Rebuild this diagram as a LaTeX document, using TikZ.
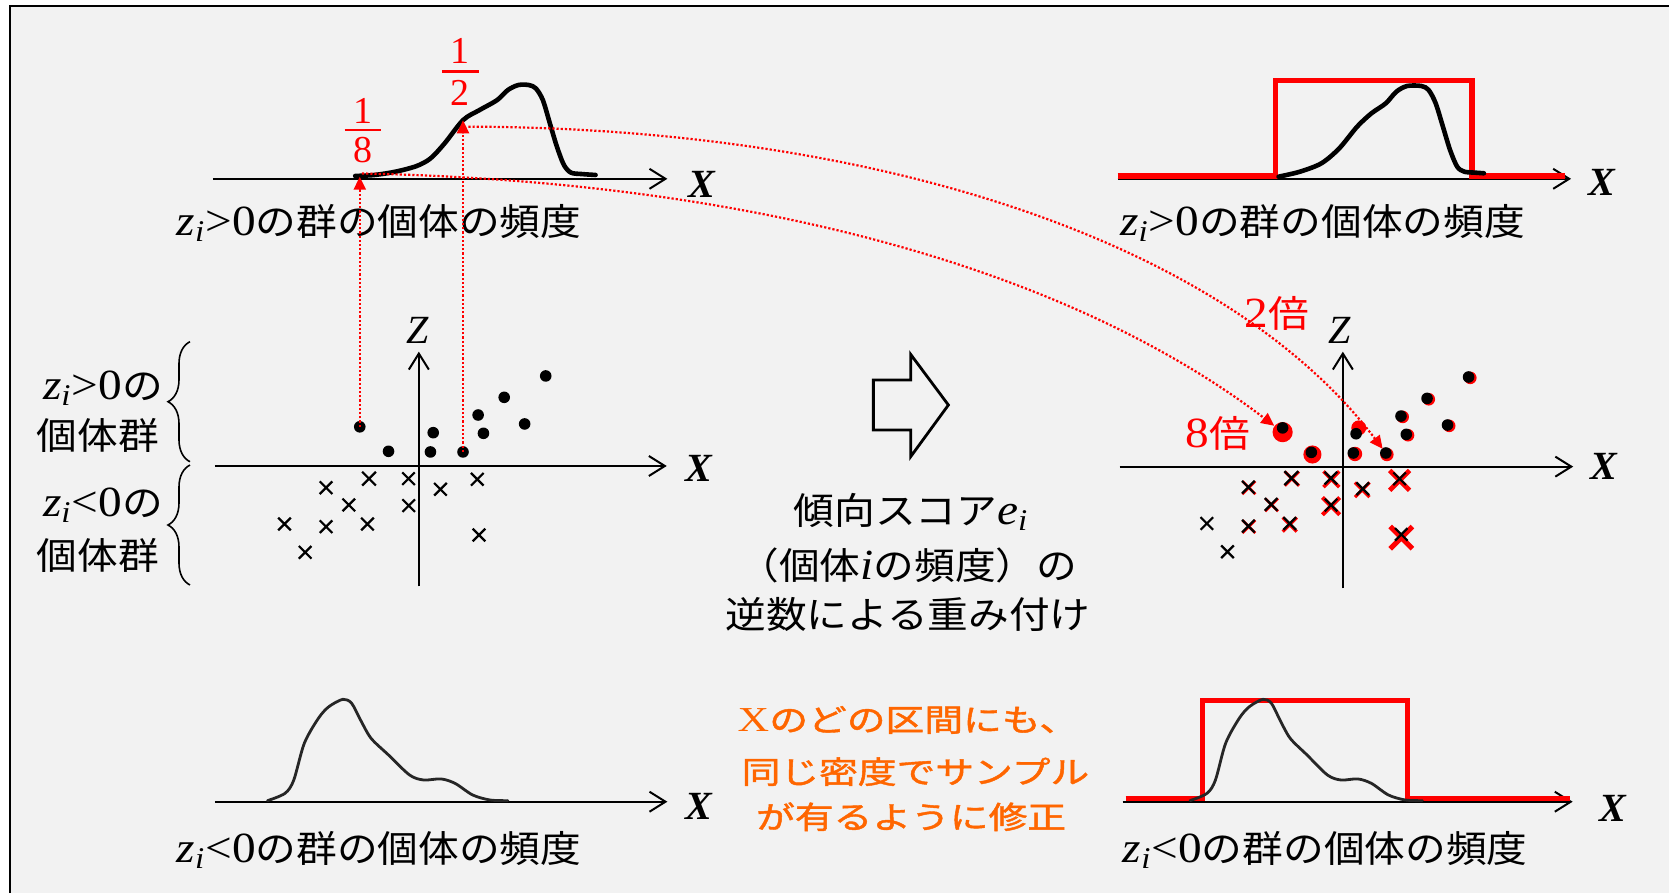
\documentclass[tikz,border=0pt]{standalone}
\usepackage{fontspec}
\usepackage{graphicx}
\setmainfont{Liberation Serif}
\newfontfamily\jp{Noto Sans CJK JP}
\newfontfamily\jpo[FakeBold=1.3]{Noto Sans CJK JP}
\usetikzlibrary{arrows.meta,decorations.pathreplacing,shapes.misc}
\definecolor{bg}{HTML}{F2F2F2}
\definecolor{org}{RGB}{255,102,0}
\newcommand\J[1]{{\jp #1}}
\newcommand\JO[1]{{\jpo #1}}
\newcommand\jx[1]{\scalebox{1.1}[1]{#1}}
\newcommand\ox[1]{\scalebox{1.25}[1]{#1}}
\newcommand\zsub[1]{\textit{#1}\textsubscript{\textit{i}}}
\newcommand\lat[1]{{\fontsize{21.5}{22}\selectfont #1}}
\begin{document}
\begin{tikzpicture}[x=0.5322pt,y=-0.5322pt,
  ax/.style={line width=1pt,-{Straight Barb[length=8pt,width=10pt]}},
  dotl/.style={red,line width=1.1pt,dash pattern=on 1.1pt off 1pt},
  rtip/.style={-{Triangle[length=6.5pt,width=6pt]}},
  dot/.style={circle,fill=black,inner sep=0pt,minimum size=5.8pt},
  rdot/.style={circle,fill=red,inner sep=0pt},
  xm/.style={cross out,draw=black,line width=1.1pt,inner sep=0pt,minimum size=5.2pt},
  rxm/.style={cross out,draw=red,inner sep=0pt},
  lab/.style={font=\fontsize{18.5}{22}\selectfont,inner sep=0pt},
  olab/.style={font=\fontsize{15.5}{18}\selectfont,text=org,inner sep=0pt},
  rlab/.style={font=\fontsize{18.5}{22}\selectfont,text=red,inner sep=0pt},
  bx/.style={font=\fontsize{20}{22}\selectfont\bfseries\itshape,inner sep=0pt},
  zl/.style={font=\fontsize{20}{22}\selectfont\itshape,inner sep=0pt},
  fr/.style={font=\fontsize{19}{22}\selectfont,text=red,inner sep=0pt},
  curvea/.style={line width=2.3pt,line cap=round,line join=round},
  curveb/.style={line width=1.4pt,black!85,line cap=round,line join=round},
  redstep/.style={red,line width=2.6pt,line join=miter}
]
\useasboundingbox (0,0) rectangle (1568,839);
\fill[white] (0,0) rectangle (1568,839);
\fill[bg] (9.4,5.6) rectangle (1568,839);
\draw[line width=1pt] (9.4,839) -- (9.4,5.6) -- (1568,5.6);

% ---------- top-left plot ----------
\draw[ax] (200,168) -- (627,168);
\node[bx] (xtl) at (659,173) {X};
\draw[curvea] plot[smooth,tension=0.5] coordinates {(333.7,165.3) (351.8,164.4) (371.6,161.3) (391.4,156) (404.5,148.8) (417.7,134.7) (435.2,112.7) (450.7,103.3) (467.1,94) (477.1,84.6) (486.9,79.9) (496.8,79.9) (503.4,83) (510,94) (516.6,115.9) (523.2,137.8) (529.8,155) (536.4,162.2) (546.2,163.5) (559.5,164.4)};
\node[lab,anchor=west] (ltl) at (165.6,209.8) {\jx{\lat{\zsub{z}>0}\J{の群の個体の頻度}}};
% fractions
\node[fr] (f8n) at (341,104) {1};
\node[fr] (f8b) at (341,122) {\rule{18.4pt}{1.3pt}};
\node[fr] (f8d) at (341,141) {8};
\node[fr] (f2n) at (432.5,48) {1};
\node[fr] (f2b) at (432.5,67) {\rule{18.4pt}{1.3pt}};
\node[fr] (f2d) at (432.5,87) {2};
\coordinate (p8) at (338,166);
\coordinate (p2) at (435,113);
\coordinate (q8) at (340,163);
\coordinate (q2) at (440,119);

% ---------- top-right plot ----------
\draw[ax] (1050,168) -- (1476,168);
\node[bx] (xtr) at (1505,171) {X};
\draw[redstep] (1050,165.4) -- (1198.5,165.4) -- (1198.5,76) -- (1383,76) -- (1383,165.4) -- (1470,165.4);
\draw[curvea] plot[smooth,tension=0.5] coordinates {(1201.2,166) (1221.3,161.3) (1241.5,153.4) (1258.2,139.4) (1275,119) (1288.4,106.5) (1301.9,97.1) (1311.9,86.1) (1322,80.8) (1335.4,80.8) (1342.2,84.6) (1348.8,97.1) (1355.6,119) (1362.3,140.9) (1369,156.6) (1375.7,161.3) (1385.7,162.2) (1394.1,162.8)};
\node[lab,anchor=west] (ltr) at (1052,209.8) {\jx{\lat{\zsub{z}>0}\J{の群の個体の頻度}}};

% ---------- middle-left scatter ----------
\draw[ax] (201.9,437.8) -- (626.4,437.8);
\draw[ax] (393.5,551) -- (393.5,330.4);
\node[bx] (xml) at (657,440) {X};
\node[zl] (zml) at (392.7,310) {Z};
\node[dot] (d1) at (338,401) {};
\node[dot] (d2) at (365,424) {};
\node[dot] (d3) at (407,406.5) {};
\node[dot] (d4) at (404.4,424.6) {};
\node[dot] (d5) at (435,424.6) {};
\node[dot] (d6) at (449.2,389.9) {};
\node[dot] (d7) at (454.2,407.1) {};
\node[dot] (d8) at (473.7,373.3) {};
\node[dot] (d9) at (492.9,398.3) {};
\node[dot] (d10) at (512.7,353.2) {};
\node[xm,minimum size=5.8pt] (x1) at (346.7,449.7) {};
\node[xm] (x2) at (383.8,449.7) {};
\node[xm] (x3) at (306.3,458.2) {};
\node[xm] (x4) at (413.8,459.7) {};
\node[xm] (x5) at (448.4,450.3) {};
\node[xm] (x6) at (327.7,474.4) {};
\node[xm] (x7) at (384,475) {};
\node[xm] (x8) at (267.3,492.3) {};
\node[xm] (x9) at (306.3,494.8) {};
\node[xm] (x10) at (345.2,492.3) {};
\node[xm] (x11) at (450,502.6) {};
\node[xm] (x12) at (286.7,518.9) {};
% braces and labels
\draw[decorate,decoration={brace,amplitude=11pt,aspect=0.5},line width=0.8pt] (178.5,433.8) -- (178.5,321);
\draw[decorate,decoration={brace,amplitude=11pt,aspect=0.5},line width=0.8pt] (178.5,549.6) -- (178.5,436.9);
\node[lab] (bl1) at (96.7,364.8) {\jx{\lat{\zsub{z}>0}\J{の}}};
\node[lab] (bl2) at (91.8,408.7) {\jx{\J{個体群}}};
\node[lab] (bl3) at (96.7,474.4) {\jx{\lat{\zsub{z}<0}\J{の}}};
\node[lab] (bl4) at (91.8,521.4) {\jx{\J{個体群}}};

% ---------- middle-right scatter ----------
\draw[ax] (1051.9,438.4) -- (1478,438.4);
\draw[ax] (1261.6,552.7) -- (1261.6,330.4);
\node[bx] (xmr) at (1506.6,438.4) {X};
\node[zl] (zmr) at (1259,310) {Z};
% red weights behind dots
\node[rdot,minimum size=10.1pt] (rb) at (1205,406) {};
\node[rdot,minimum size=9.05pt] (ra) at (1233,427) {};
\node[rdot,minimum size=7.45pt] (rc) at (1276.5,402) {};
\node[rdot,minimum size=7.2pt] (rd) at (1273,426.5) {};
\node[rdot,minimum size=6.7pt] (re) at (1303,427) {};
\node[rdot,minimum size=6.3pt] (rf) at (1317.8,391.7) {};
\node[rdot,minimum size=6.3pt] (rg) at (1322.8,408.9) {};
\node[rdot,minimum size=6.3pt] (rh) at (1342.3,375.1) {};
\node[rdot,minimum size=6.3pt] (ri) at (1361.5,400.1) {};
\node[rdot,minimum size=6.3pt] (rj) at (1381.3,355) {};
\begin{scope}[shift={(867,1)}]
\node[dot] (e1) at (338,401) {};
\node[dot] (e2) at (365,424) {};
\node[dot] (e3) at (407,406.5) {};
\node[dot] (e4) at (404.4,424.6) {};
\node[dot] (e5) at (435,424.6) {};
\node[dot] (e6) at (449.2,389.9) {};
\node[dot] (e7) at (454.2,407.1) {};
\node[dot] (e8) at (473.7,373.3) {};
\node[dot] (e9) at (492.9,398.3) {};
\node[dot] (e10) at (512.7,353.2) {};
\end{scope}
\begin{scope}[shift={(866.5,-0.5)}]
\node[rxm,minimum size=5.6pt,line width=1.5pt] (ry1) at (347.2,450.2) {};
\node[rxm,minimum size=6.1pt,line width=1.8pt] (ry2) at (384.3,450.7) {};
\node[rxm,minimum size=5.2pt,line width=1.3pt] (ry3) at (306.8,458.7) {};
\node[rxm,minimum size=5.7pt,line width=1.6pt] (ry4) at (413.3,460.7) {};
\node[rxm,minimum size=7.5pt,line width=2.4pt] (ry5) at (448.4,451.8) {};
\node[rxm,minimum size=5.1pt,line width=1.3pt] (ry6) at (328.2,474.9) {};
\node[rxm,minimum size=6.6pt,line width=2pt] (ry7) at (384,476) {};
\node[rxm,minimum size=5.1pt,line width=1.3pt] (ry9) at (306.8,495.3) {};
\node[rxm,minimum size=5.5pt,line width=1.6pt] (ry10) at (345.2,493.3) {};
\node[rxm,minimum size=8.5pt,line width=2.6pt] (ry11) at (450,505.6) {};
\node[xm,minimum size=5.8pt] (y1) at (346.7,449.7) {};
\node[xm] (y2) at (383.8,449.7) {};
\node[xm] (y3) at (306.3,458.2) {};
\node[xm] (y4) at (413.8,459.7) {};
\node[xm] (y5) at (448.4,450.3) {};
\node[xm] (y6) at (327.7,474.4) {};
\node[xm] (y7) at (384,475) {};
\node[xm] (y8) at (267.3,492.3) {};
\node[xm] (y9) at (306.3,494.8) {};
\node[xm] (y10) at (345.2,492.3) {};
\node[xm] (y11) at (450,502.6) {};
\node[xm] (y12) at (286.7,518.9) {};
\end{scope}
\node[rlab] (w2) at (1199.5,294.4) {\jx{\lat{2}\J{倍}}};
\node[rlab] (w8) at (1144.2,407.1) {\jx{\lat{8}\J{倍}}};

% ---------- big hollow arrow and centre text ----------
\draw[line width=1.4pt,line join=miter] (820.5,357) -- (855.6,357) -- (855.6,333) -- (891,380.5) -- (855.6,429) -- (855.6,404) -- (820.5,404) -- cycle;
\node[lab] (t1) at (856,481.3) {\jx{\J{傾向スコア}\lat{\textit{e}\textsubscript{\textit{i}}}}};
\node[lab] (t2) at (853,531.4) {\jx{\J{（個体}\lat{\textit{i}}\J{の頻度）の}}};
\node[lab] (t3) at (853,576.9) {\jx{\J{逆数による重み付け}}};

% ---------- bottom-left plot ----------
\draw[ax] (201.9,753.2) -- (627,753.2);
\node[bx] (xbl) at (657,758) {X};
\begin{scope}[shift={(251.3,0)}]
\draw[curveb] plot[smooth,tension=0.5] coordinates {(0,752.2) (16.5,745.3) (24.7,732.8) (34.6,698.3) (47.8,674.9) (57.7,663.9) (70.9,657) (79.1,660.8) (87.4,676.4) (97.3,693.6) (113.7,709.3) (133.5,728.1) (146.7,732.8) (163.1,731.8) (176.3,736) (192.8,746.9) (209.2,751.6) (225.8,752.2)};
\end{scope}
\node[lab,anchor=west] (lbl) at (165.6,798.6) {\jx{\lat{\zsub{z}<0}\J{の群の個体の頻度}}};

% ---------- bottom-right plot ----------
\draw[ax] (1054.6,753.2) -- (1477.5,753.2);
\node[bx] (xbr) at (1514.8,759.4) {X};
\draw[redstep] (1057.5,750) -- (1129.4,750) -- (1129.4,658.3) -- (1322.2,658.3) -- (1322.2,750) -- (1474.6,750);
\begin{scope}[shift={(1118,0)},xscale=0.967]
\draw[curveb] plot[smooth,tension=0.5] coordinates {(0,752.2) (16.5,745.3) (24.7,732.8) (34.6,698.3) (47.8,674.9) (57.7,663.9) (70.9,657) (79.1,660.8) (87.4,676.4) (97.3,693.6) (113.7,709.3) (133.5,728.1) (146.7,732.8) (163.1,731.8) (176.3,736) (192.8,746.9) (209.2,751.6) (225.8,752.2)};
\end{scope}
\node[lab,anchor=west] (lbr) at (1054.6,798.6) {\jx{\lat{\zsub{z}<0}\J{の群の個体の頻度}}};

% ---------- orange text ----------
\node[olab] (o1) at (853,676.4) {\ox{{\fontsize{17.5}{18}\selectfont X}\JO{のどの区間にも、}}};
\node[olab] (o2) at (860,725) {\ox{\JO{同じ密度でサンプル}}};
\node[olab] (o3) at (856,767.3) {\ox{\JO{が有るように修正}}};

% ---------- red dotted connectors ----------
\draw[dotl,rtip] (d1.center) -- (p8);
\draw[dotl,rtip] (d5.center) -- (p2);
\draw[dotl,rtip] (q2) .. controls (820,120) and (1150,225) .. (re);
\draw[dotl,rtip] (q8) .. controls (700,170) and (1000,250) .. (rb);
\end{tikzpicture}
\end{document}
